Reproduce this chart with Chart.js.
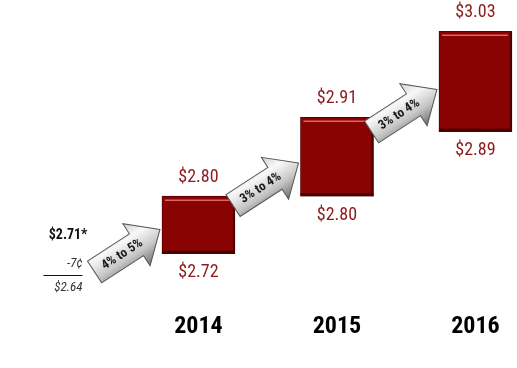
<!DOCTYPE html>
<html>
<head>
<meta charset="utf-8">
<script src="https://cdn.jsdelivr.net/npm/chart.js@4"></script>
<style>
  html, body { margin: 0; padding: 0; background: #fff; }
  #wrap { width: 517px; height: 368px; }
</style>
</head>
<body>
<div id="wrap"><canvas id="myChart"></canvas></div>
<script>
const years = [2014, 2015, 2016];
const lowValues = [2.72, 2.80, 2.89];
const highValues = [2.80, 2.91, 3.03];
const growthLabels = ["4% to 5%", "3% to 4%", "3% to 4%"];
const baseLines = ["$2.71*", "-7¢", "$2.64"];

const narrow = "'Roboto Condensed', 'DejaVu Sans Condensed', sans-serif";
const barRed = "#8a0303";
const labelRed = "#8c1a1a";

// bevel-ish look on the boxes + the $ labels above and below
const barDecor = {
  id: "barDecor",
  afterDatasetsDraw(chart) {
    const ctx = chart.ctx;
    const meta = chart.getDatasetMeta(0);
    meta.data.forEach((bar, i) => {
      const p = bar.getProps(["x", "y", "base", "width"], true);
      const left = p.x - p.width / 2;
      const right = p.x + p.width / 2;
      ctx.save();
      ctx.fillStyle = "#4a0000";
      ctx.fillRect(left, p.base - 3, p.width, 3);
      ctx.fillRect(right - 2, p.y, 2, p.base - p.y);
      ctx.strokeStyle = "rgba(235,120,120,0.85)";
      ctx.lineWidth = 1.5;
      ctx.beginPath();
      ctx.moveTo(left + 3, p.y + 4);
      ctx.lineTo(right - 4, p.y + 4);
      ctx.stroke();

      ctx.fillStyle = labelRed;
      ctx.font = "18px " + narrow;
      ctx.textAlign = "center";
      ctx.textBaseline = "middle";
      ctx.fillText("$" + highValues[i].toFixed(2), p.x, p.y - 19);
      ctx.fillText("$" + lowValues[i].toFixed(2), p.x, p.base + 19);
      ctx.restore();
    });
  }
};

const drawArrow = (ctx, tipX, tipY, text) => {
  const L = 78, shaft = 13, head = 25, headLen = 28;
  ctx.save();
  ctx.translate(tipX, tipY);
  ctx.rotate(-33 * Math.PI / 180);
  ctx.beginPath();
  ctx.moveTo(0, 0);
  ctx.lineTo(-headLen, -head);
  ctx.lineTo(-headLen, -shaft);
  ctx.lineTo(-L, -shaft);
  ctx.lineTo(-L, shaft);
  ctx.lineTo(-headLen, shaft);
  ctx.lineTo(-headLen, head);
  ctx.closePath();
  const g = ctx.createLinearGradient(0, -head, 0, head);
  g.addColorStop(0, "#d0d0d0");
  g.addColorStop(0.3, "#f8f8f8");
  g.addColorStop(0.65, "#c6c6c6");
  g.addColorStop(1, "#6e6e6e");
  ctx.fillStyle = g;
  ctx.fill();
  ctx.strokeStyle = "#555";
  ctx.lineWidth = 1;
  ctx.stroke();
  ctx.fillStyle = "#1a1a1a";
  ctx.font = "bold 13px " + narrow;
  ctx.textAlign = "center";
  ctx.textBaseline = "middle";
  ctx.fillText(text, -L * 0.58, 0.5);
  ctx.restore();
};

const arrowsAndNote = {
  id: "arrowsAndNote",
  afterDraw(chart) {
    const ctx = chart.ctx;
    const meta = chart.getDatasetMeta(0);
    meta.data.forEach((bar, i) => {
      const p = bar.getProps(["x", "y", "base", "width"], true);
      drawArrow(ctx, p.x - p.width / 2 - 2, p.y + 0.58 * (p.base - p.y), growthLabels[i]);
    });

    // starting point note on the left
    const ax = chart.scales.x.getPixelForValue(years[0]) - 116;
    ctx.save();
    ctx.fillStyle = "#111";
    ctx.textAlign = "right";
    ctx.textBaseline = "middle";
    ctx.font = "bold 14px " + narrow;
    ctx.fillText(baseLines[0], ax + 5, 235);
    ctx.font = "italic 13px " + narrow;
    ctx.fillStyle = "#333";
    ctx.fillText(baseLines[1], ax, 264);
    ctx.fillText(baseLines[2], ax, 288);
    ctx.strokeStyle = "#111";
    ctx.lineWidth = 1;
    ctx.beginPath();
    ctx.moveTo(ax - 39, 275.5);
    ctx.lineTo(ax, 275.5);
    ctx.stroke();
    ctx.restore();
  }
};

const ctx = document.getElementById("myChart").getContext("2d");
const myChart = new Chart(ctx, {
  type: "bar",
  data: {
    datasets: [
      {
        data: years.map((y, i) => ({ x: y, y: [lowValues[i], highValues[i]] })),
        backgroundColor: barRed,
        borderColor: "#5a0000",
        borderWidth: 1,
        borderSkipped: false,
        barThickness: 73,
      },
    ],
  },
  options: {
    responsive: true,
    maintainAspectRatio: false,
    animation: false,
    layout: { padding: { left: 0, right: 0, top: 0, bottom: 27 } },
    plugins: { legend: { display: false }, tooltip: { enabled: false } },
    scales: {
      x: {
        type: "linear",
        offset: false,
        min: 2012.567,
        max: 2016.3,
        grid: { display: false, drawTicks: false, offset: false },
        border: { display: false },
        afterBuildTicks: (scale) => {
          scale.ticks = years.map((v) => ({ value: v }));
        },
        ticks: {
          padding: 0,
          color: "#000",
          autoSkip: false,
          maxRotation: 0,
          font: { family: narrow, size: 24, weight: "bold" },
          callback: (v) => String(v),
        },
      },
      y: {
        display: false,
        min: 2.6383,
        max: 3.0735,
      },
    },
  },
  plugins: [barDecor, arrowsAndNote],
});
</script>
</body>
</html>
